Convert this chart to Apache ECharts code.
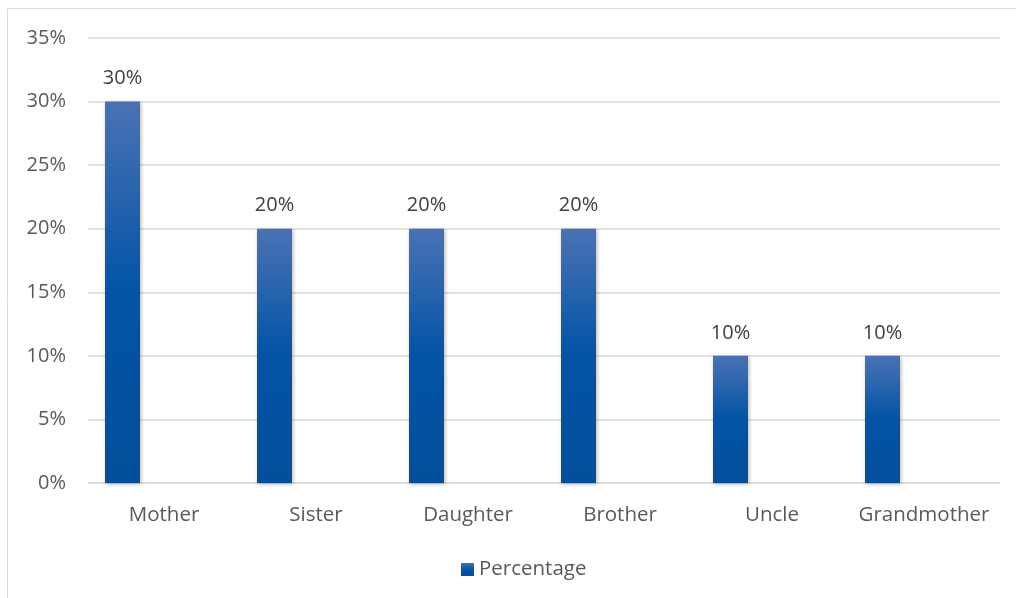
<!DOCTYPE html>
<html><head><meta charset="utf-8">
<script src="https://cdn.jsdelivr.net/npm/echarts@6/dist/echarts.min.js"></script>
<style>html,body{margin:0;padding:0;background:#fff}#c{width:1016px;height:598px}</style>
</head><body><div id="c"></div>
<script>
const categories = ['Mother','Sister','Daughter','Brother','Uncle','Grandmother'];
const percentage = [30,20,20,20,10,10];
const yTicks = [0,5,10,15,20,25,30,35];

const chart = echarts.init(document.getElementById('c'));
const font = '"Open Sans", Calibri, "Liberation Sans", sans-serif';
chart.setOption({
  backgroundColor:'#fff',
  animation:false,
  graphic:[{type:'rect',shape:{x:7.5,y:8.5,width:1020,height:600},style:{fill:null,stroke:'#d9d9d9',lineWidth:1},silent:true}],
  grid:{left:88,right:16,top:38,bottom:115,containLabel:false},
  xAxis:{type:'category',data:categories,axisLine:{show:true,lineStyle:{color:'#d9d9d9',width:1.5}},axisTick:{show:false},
    axisLabel:{color:'#595959',fontSize:20.5,fontFamily:font,margin:22,interval:0,hideOverlap:false}},
  yAxis:{type:'value',min:0,max:35,interval:5,axisLine:{show:false},axisTick:{show:false},
    splitLine:{lineStyle:{color:'#d9d9d9',width:1.5}},
    axisLabel:{color:'#595959',fontSize:20,fontFamily:font,margin:22,formatter:v=>v+'%'}},
  legend:{data:['Percentage'],left:456,top:554,itemWidth:13,itemHeight:13,itemGap:8,icon:'rect',
    textStyle:{color:'#595959',fontSize:20.5,fontFamily:font}},
  series:[
    {name:'Percentage',type:'bar',data:percentage,barWidth:35,barGap:'137%',
     itemStyle:{color:new echarts.graphic.LinearGradient(0,0,0,1,[{offset:0,color:'#4A72B4'},{offset:0.5,color:'#0254A6'},{offset:1,color:'#034F99'}]),
       shadowColor:'rgba(0,0,0,0.3)',shadowBlur:4,shadowOffsetX:1,shadowOffsetY:1},
     label:{show:true,position:'top',distance:13,color:'#404040',fontSize:20,fontFamily:font,formatter:p=>p.value+'%'}},
    {name:'Hidden',type:'bar',data:categories.map(()=>null),barWidth:35}
  ]
});
</script></body></html>
